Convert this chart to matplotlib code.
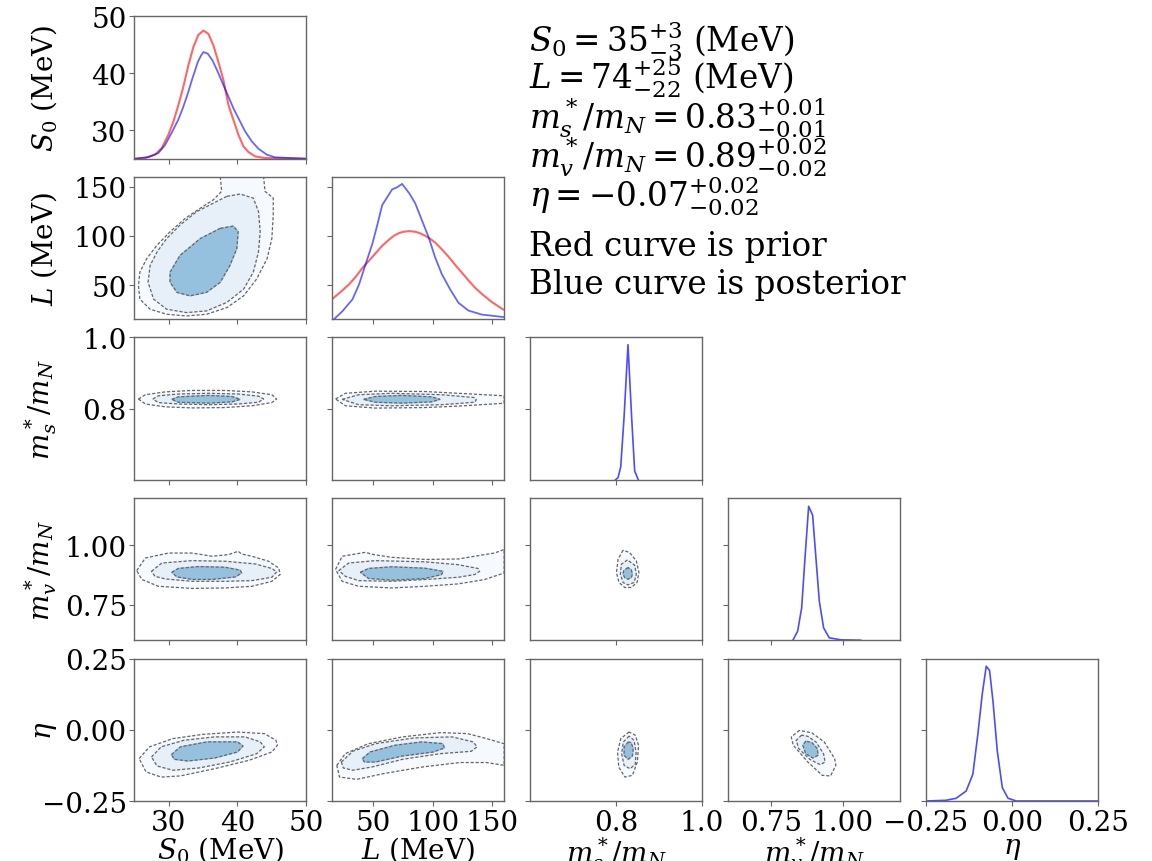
import matplotlib.pyplot as plt

plt.rcParams['font.family'] = 'DejaVu Serif'
plt.rcParams['mathtext.fontset'] = 'dejavuserif'

labels = [r'$S_0$ (MeV)', r'$L$ (MeV)', r'$m_s^*/m_N$', r'$m_v^*/m_N$', r'$\eta$']
lims = [(25, 50), (15.5, 160), (0.6, 1.0), (0.6, 1.2), (-0.25, 0.25)]
ticks = [[30, 40, 50], [50, 100, 150], [0.8, 1.0], [0.75, 1.0], [-0.25, 0.0, 0.25]]
tick_labels = [['30', '40', '50'], ['50', '100', '150'], ['0.8', '1.0'],
               ['0.75', '1.00'], ['\u22120.25', '0.00', '0.25']]

summary = [r'$S_0 = 35^{+3}_{-3}$ (MeV)',
           r'$L = 74^{+25}_{-22}$ (MeV)',
           r'$m_s^*/m_N = 0.83^{+0.01}_{-0.01}$',
           r'$m_v^*/m_N = 0.89^{+0.02}_{-0.02}$',
           r'$\eta = -0.07^{+0.02}_{-0.02}$',
           'Red curve is prior',
           'Blue curve is posterior']

# 1d curves (drawn in the row's y units)
s0_prior_x = [25.1, 26.56, 28.0, 28.99, 29.95, 30.68, 31.41, 32.13, 32.86, 33.59, 34.32, 35.05, 35.77,
              36.5, 37.23, 37.96, 38.69, 39.41, 40.14, 40.87, 41.6, 42.57, 44.03, 50.0]
s0_prior_y = [25.0, 25.12, 25.7, 26.87, 29.19, 31.51, 34.41, 37.62, 41.39, 44.6, 46.74, 47.49, 46.91,
              44.88, 41.97, 38.77, 34.41, 31.8, 29.19, 27.16, 26.17, 25.41, 25.12, 25.0]
s0_post_x = [25.1, 27.04, 28.49, 29.47, 30.45, 31.41, 32.13, 32.86, 33.36, 33.84, 34.23, 34.71, 35.05,
             35.68, 36.36, 37.14, 37.96, 38.69, 39.41, 40.14, 41.12, 42.09, 43.05, 44.28, 45.49, 50.0]
s0_post_y = [25.0, 25.29, 25.99, 27.4, 29.6, 31.9, 34.13, 36.75, 38.77, 40.52, 41.97, 43.13, 43.72,
             43.43, 42.26, 40.23, 37.9, 35.88, 33.84, 32.1, 29.78, 28.03, 26.75, 25.7, 25.24, 25.0]

L_prior_x = [15.74, 22.7, 29.7, 35.2, 40.8, 46.4, 51.9, 57.5, 63.1, 67.3, 71.5, 75.6, 80.3, 85.3, 89.5,
             93.7, 97.9, 102.0, 107.6, 113.2, 118.8, 124.4, 129.9, 135.5, 141.1, 149.4, 159.2]
L_prior_y = [36.3, 43.4, 51.0, 58.5, 67.4, 74.9, 82.4, 90.0, 96.1, 100.2, 102.9, 104.3, 104.9, 104.3,
             102.6, 100.2, 97.1, 93.3, 86.5, 79.0, 70.8, 62.9, 55.1, 47.5, 41.4, 33.2, 25.4]
L_post_x = [16.6, 24.1, 32.5, 38.1, 43.6, 49.2, 53.3, 57.5, 65.9, 70.05, 74.2, 77.0, 80.3, 85.3, 90.9,
            96.5, 102.0, 107.6, 114.6, 121.6, 129.9, 141.1, 159.2]
L_post_y = [15.2, 23.7, 35.7, 51.0, 71.5, 92.0, 110.8, 131.3, 147.3, 149.4, 152.8, 148.4, 143.2, 133.0,
            115.9, 98.8, 78.3, 61.3, 45.9, 32.2, 24.4, 20.3, 17.8]

ms_post_x = [0.7985, 0.8046, 0.8108, 0.8185, 0.8277, 0.8362, 0.8432, 0.8517]
ms_post_y = [0.6, 0.6065, 0.6365, 0.775, 0.9795, 0.775, 0.625, 0.6]

mv_post_x = [0.826, 0.843, 0.857, 0.8686, 0.8814, 0.8953, 0.9068, 0.9186, 0.9336, 0.9533, 0.9937, 1.063]
mv_post_y = [0.6, 0.639, 0.737, 0.947, 1.165, 1.127, 0.947, 0.765, 0.653, 0.611, 0.6025, 0.601]

eta_post_x = [-0.25, -0.1915, -0.162, -0.133, -0.1135, -0.099, -0.0863, -0.0746, -0.0649, -0.055,
              -0.0424, -0.0278, -0.0111, 0.0132, 0.25]
eta_post_y = [-0.25, -0.2475, -0.2405, -0.215, -0.156, -0.016, 0.124, 0.223, 0.208, 0.1004,
              -0.075, -0.2034, -0.2405, -0.25, -0.25]

# 2d credible regions: outer, middle, inner outlines as (x, y) points
c_L_S0 = [
    [(37.5, 160), (37.7, 145.3), (36.5, 136.7), (34.6, 128.2), (32.4, 117.9), (30.2, 104.3), (28.3, 90.6),
     (26.8, 77.0), (25.8, 63.3), (25.6, 49.6), (25.8, 36.0), (27.3, 25.7), (29.7, 20.6), (32.6, 18.9),
     (35.5, 20.6), (38.5, 27.5), (40.9, 39.3), (42.8, 56.5), (44.3, 77.0), (45.0, 97.4), (45.2, 121.3),
     (45.2, 138.4), (44.0, 145.3), (43.8, 160)],
    [(38.45, 140.2), (36.5, 133.3), (34.1, 124.8), (31.65, 111.1), (29.7, 97.4), (28.3, 83.8), (27.3, 70.1),
     (27.0, 53.1), (27.8, 36.0), (29.7, 25.7), (32.6, 22.3), (35.5, 24.0), (38.45, 32.6), (40.9, 46.2),
     (42.3, 63.3), (43.05, 83.8), (43.3, 104.3), (43.05, 124.8), (42.3, 138.4), (40.4, 142.5)],
    [(37.5, 107.7), (34.6, 97.4), (31.65, 80.3), (30.2, 63.3), (30.2, 53.1), (31.2, 42.8), (33.1, 39.3),
     (35.5, 42.8), (37.5, 53.1), (38.9, 70.1), (39.9, 87.2), (40.1, 104.3), (39.4, 110.0)],
]
c_ms_S0 = [
    [(25.6, 0.827), (26.6, 0.839), (29.5, 0.847), (33.4, 0.851), (38.2, 0.851), (42.1, 0.847), (45.0, 0.839),
     (45.7, 0.827), (45.0, 0.817), (42.1, 0.808), (38.2, 0.803), (33.4, 0.802), (29.5, 0.805), (26.6, 0.813)],
    [(27.7, 0.827), (28.5, 0.836), (31.4, 0.841), (35.8, 0.843), (40.1, 0.841), (43.05, 0.835), (43.8, 0.827),
     (43.05, 0.818), (40.1, 0.813), (35.8, 0.811), (31.4, 0.813), (28.5, 0.817)],
    [(30.45, 0.826), (31.4, 0.833), (35.8, 0.837), (39.2, 0.834), (40.4, 0.826), (39.2, 0.819),
     (35.8, 0.8155), (31.4, 0.818)],
]
c_ms_L = [
    [(18.3, 0.827), (26.6, 0.843), (51.7, 0.849), (93.4, 0.848), (121.3, 0.843), (160, 0.836), (160, 0.815),
     (121.3, 0.807), (93.4, 0.803), (51.7, 0.8015), (26.6, 0.808)],
    [(23.9, 0.826), (37.7, 0.839), (65.6, 0.843), (107.4, 0.839), (135.2, 0.831), (136.6, 0.825),
     (135.2, 0.818), (107.4, 0.811), (65.6, 0.808), (37.7, 0.811)],
    [(41.9, 0.826), (51.7, 0.834), (74.0, 0.837), (99.0, 0.833), (106.0, 0.826), (99.0, 0.819),
     (74.0, 0.8155), (51.7, 0.818)],
]
c_mv_S0 = [
    [(25.35, 0.894), (26.6, 0.947), (29.95, 0.968), (33.4, 0.968), (36.3, 0.9545), (38.7, 0.9615),
     (40.1, 0.9755), (40.6, 0.964), (42.1, 0.9545), (44.5, 0.9335), (46.0, 0.905), (46.2, 0.8775),
     (45.0, 0.849), (42.1, 0.828), (38.2, 0.821), (33.4, 0.819), (28.5, 0.828), (26.1, 0.8565)],
    [(27.5, 0.891), (29.0, 0.926), (33.4, 0.936), (38.2, 0.9335), (42.6, 0.922), (45.0, 0.903),
     (45.7, 0.8885), (45.0, 0.866), (42.1, 0.852), (38.2, 0.849), (33.4, 0.849), (29.5, 0.859), (28.0, 0.870)],
    [(30.45, 0.887), (31.4, 0.903), (34.3, 0.911), (38.2, 0.908), (40.4, 0.896), (40.6, 0.884),
     (39.7, 0.8675), (36.3, 0.857), (33.4, 0.857), (31.2, 0.8675)],
]
c_mv_L = [
    [(18.3, 0.899), (23.9, 0.9545), (43.3, 0.971), (50.3, 0.9615), (65.6, 0.950), (93.4, 0.941),
     (121.3, 0.943), (143.6, 0.9615), (151.9, 0.968), (160, 0.983), (160, 0.884), (143.6, 0.8565),
     (121.3, 0.838), (93.4, 0.828), (65.6, 0.821), (37.7, 0.828), (23.9, 0.849)],
    [(21.0, 0.894), (29.4, 0.926), (51.7, 0.936), (93.4, 0.931), (121.3, 0.919), (138.0, 0.903),
     (139.4, 0.891), (135.2, 0.8775), (121.3, 0.866), (93.4, 0.8565), (65.6, 0.849), (37.7, 0.852),
     (26.6, 0.870)],
    [(39.1, 0.887), (46.1, 0.903), (65.6, 0.910), (93.4, 0.904), (108.7, 0.891), (107.4, 0.8775),
     (93.4, 0.861), (65.6, 0.854), (46.1, 0.861)],
]
c_mv_ms = [
    [(0.8162, 0.980), (0.8046, 0.942), (0.8008, 0.886), (0.8069, 0.844), (0.82, 0.823), (0.8355, 0.823),
     (0.8486, 0.844), (0.8532, 0.886), (0.8471, 0.935), (0.8316, 0.970)],
    [(0.8263, 0.939), (0.8123, 0.921), (0.810, 0.879), (0.8162, 0.844), (0.8277, 0.834), (0.8417, 0.844),
     (0.8471, 0.879), (0.8432, 0.917)],
    [(0.8277, 0.907), (0.8177, 0.893), (0.8162, 0.879), (0.82, 0.865), (0.8277, 0.858), (0.8355, 0.865),
     (0.8378, 0.879), (0.8355, 0.897)],
]
c_eta_S0 = [
    [(25.7, -0.101), (27.2, -0.060), (30.6, -0.031), (35.0, -0.016), (40.0, -0.008), (43.9, -0.0135),
     (45.6, -0.037), (45.8, -0.0545), (45.0, -0.078), (41.7, -0.107), (36.7, -0.1365), (31.7, -0.162),
     (28.9, -0.166), (26.7, -0.148)],
    [(27.5, -0.0955), (28.9, -0.060), (32.2, -0.037), (36.7, -0.025), (41.1, -0.025), (43.3, -0.0425),
     (43.9, -0.060), (42.8, -0.084), (38.9, -0.113), (34.4, -0.134), (30.6, -0.142), (28.3, -0.127)],
    [(30.4, -0.087), (31.7, -0.060), (35.6, -0.0425), (40.0, -0.0425), (40.8, -0.0568), (40.0, -0.078),
     (36.7, -0.099), (32.8, -0.1095), (30.8, -0.1036)],
]
c_eta_L = [
    [(19.35, -0.125), (26.4, -0.084), (45.7, -0.049), (74.6, -0.025), (106.7, -0.010), (129.2, -0.0135),
     (145.2, -0.031), (160, -0.049), (160, -0.125), (145.2, -0.115), (122.7, -0.115), (90.6, -0.131),
     (58.5, -0.154), (36.1, -0.174), (21.6, -0.166)],
    [(23.2, -0.113), (32.8, -0.0755), (52.1, -0.0486), (84.2, -0.0287), (116.3, -0.025), (134.0, -0.0428),
     (137.2, -0.060), (132.4, -0.0755), (106.7, -0.0837), (74.6, -0.1036), (48.9, -0.1306), (32.8, -0.142),
     (24.8, -0.134)],
    [(40.9, -0.101), (47.3, -0.078), (68.2, -0.0545), (90.6, -0.0428), (108.3, -0.0486), (109.9, -0.064),
     (100.3, -0.078), (74.6, -0.092), (52.1, -0.113), (42.5, -0.113)],
]
c_eta_ms = [
    [(0.8302, -0.0076), (0.811, -0.031), (0.8034, -0.078), (0.8062, -0.131), (0.8206, -0.166),
     (0.8379, -0.160), (0.8494, -0.113), (0.8523, -0.0545), (0.8446, -0.019)],
    [(0.8302, -0.022), (0.8168, -0.043), (0.813, -0.084), (0.8187, -0.125), (0.8321, -0.1365),
     (0.8446, -0.122), (0.8465, -0.078), (0.8417, -0.037)],
    [(0.8283, -0.043), (0.8187, -0.060), (0.8187, -0.0896), (0.8283, -0.1036), (0.8379, -0.092),
     (0.8398, -0.066), (0.835, -0.045)],
]
c_eta_mv = [
    [(0.8495, -0.002), (0.8206, -0.025), (0.8278, -0.0545), (0.8783, -0.113), (0.9288, -0.160),
     (0.9576, -0.162), (0.9764, -0.125), (0.972, -0.101), (0.936, -0.043), (0.8927, -0.011)],
    [(0.8567, -0.019), (0.838, -0.037), (0.8466, -0.066), (0.8855, -0.104), (0.9216, -0.1224),
     (0.9389, -0.113), (0.9331, -0.084), (0.9072, -0.043), (0.8783, -0.023)],
    [(0.8711, -0.040), (0.861, -0.0545), (0.8711, -0.0837), (0.8956, -0.099), (0.9144, -0.0896),
     (0.9115, -0.066), (0.8927, -0.045)],
]

regions = {(1, 0): c_L_S0, (2, 0): c_ms_S0, (2, 1): c_ms_L,
           (3, 0): c_mv_S0, (3, 1): c_mv_L, (3, 2): c_mv_ms,
           (4, 0): c_eta_S0, (4, 1): c_eta_L, (4, 2): c_eta_ms, (4, 3): c_eta_mv}
fills = ['#f6f9fe', '#e7eff8', '#96c1de']

fig, axes = plt.subplots(5, 5, figsize=(11.52, 8.62), dpi=100)
fig.subplots_adjust(left=0.1166, right=0.953, top=0.98, bottom=0.0696, wspace=0.151, hspace=0.127)

for i in range(5):
    for j in range(5):
        ax = axes[i, j]
        if j > i:
            ax.remove()
            continue
        ax.set_xlim(lims[j])
        ax.set_ylim(lims[i])
        ax.set_xticks(ticks[j])
        ax.set_yticks(ticks[i])
        if i == 4:
            ax.set_xticklabels(tick_labels[j])
            ax.set_xlabel(labels[j], fontsize=20)
            ax.xaxis.set_label_coords(0.5, -0.235)
        else:
            ax.set_xticklabels([])
        if j == 0:
            ax.set_yticklabels(tick_labels[i])
            ax.set_ylabel(labels[i], fontsize=20)
            ax.yaxis.set_label_coords(-0.44, 0.5)
        else:
            ax.set_yticklabels([])
        ax.tick_params(direction='out', length=3.5, width=0.8, color='0.4', labelsize=20, pad=2)
        for sp in ax.spines.values():
            sp.set_color('0.4')
            sp.set_linewidth(1.0)
        if (i, j) in regions:
            for pts, fc in zip(regions[(i, j)], fills):
                xs = [p[0] for p in pts] + [pts[0][0]]
                ys = [p[1] for p in pts] + [pts[0][1]]
                ax.fill(xs, ys, color=fc, zorder=1)
                ax.plot(xs, ys, ls=(0, (2.5, 1.5)), color='0.4', lw=0.9, zorder=2,
                        solid_joinstyle='round', dash_joinstyle='round')

axes[0, 0].plot(s0_prior_x, s0_prior_y, color='red', alpha=0.6, lw=1.5)
axes[0, 0].plot(s0_post_x, s0_post_y, color='blue', alpha=0.6, lw=1.3)
axes[1, 1].plot(L_prior_x, L_prior_y, color='red', alpha=0.6, lw=1.5)
axes[1, 1].plot(L_post_x, L_post_y, color='blue', alpha=0.6, lw=1.3)
axes[2, 2].plot(ms_post_x, ms_post_y, color='blue', alpha=0.7, lw=1.2)
axes[3, 3].plot(mv_post_x, mv_post_y, color='blue', alpha=0.7, lw=1.2)
axes[4, 4].plot(eta_post_x, eta_post_y, color='blue', alpha=0.7, lw=1.2)

baselines = [52, 89, 129, 168, 207, 256, 294]
for line, b in zip(summary, baselines):
    fig.text(529 / 1152, 1 - b / 862, line, fontsize=23.5, va='baseline', ha='left')

fig.savefig('out.png', dpi=100)
